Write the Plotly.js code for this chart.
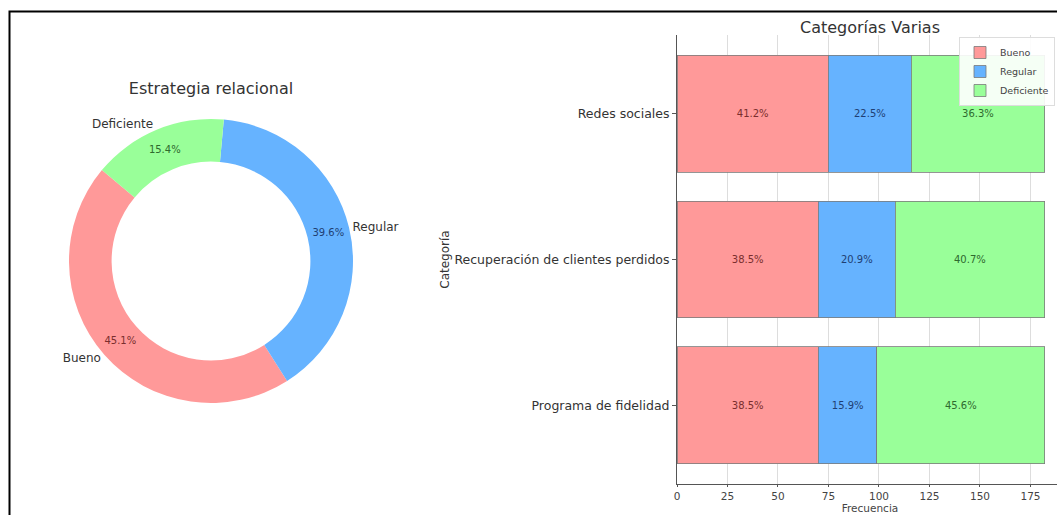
<!DOCTYPE html>
<html><head><meta charset="utf-8">
<script src="https://cdn.plot.ly/plotly-3.0.1.min.js"></script>
<style>html,body{margin:0;padding:0;overflow:hidden;background:#fff}</style>
</head><body><div id="chart" style="width:1063px;height:515px"></div>
<script>
// ---- data ----
const donutLabels = ['Bueno', 'Regular', 'Deficiente'];
const donutValues = [82, 72, 28];
const categories = ['Programa de fidelidad', 'Recuperación de clientes perdidos', 'Redes sociales'];
const buenoVals = [70, 70, 75];
const regularVals = [29, 38, 41];
const deficienteVals = [83, 74, 66];
const seriesNames = ['Bueno', 'Regular', 'Deficiente'];
const xTicks = [0, 25, 50, 75, 100, 125, 150, 175];

// ---- styles ----
const W = 1063, H = 515;
const FONT = 'DejaVu Sans, sans-serif';
const colors = {Bueno: '#ff9999', Regular: '#66b3ff', Deficiente: '#99ff99'};
const textColors = {Bueno: '#7a2e2e', Regular: '#1f3f73', Deficiente: '#2e6a2e'};
const px = v => v / W, py = v => 1 - v / H;

const totals = categories.map((c, i) => buenoVals[i] + regularVals[i] + deficienteVals[i]);
const seriesVals = [buenoVals, regularVals, deficienteVals];

const pieDomain = {x: [px(211 - 142), px(211 + 142)], y: [py(261 + 142), py(261 - 142)]};

const traces = [
  {
    type: 'pie', labels: donutLabels, values: donutValues, hole: 0.7, sort: false,
    direction: 'counterclockwise', rotation: 147.6, domain: pieDomain,
    marker: {colors: donutLabels.map(l => colors[l]), line: {width: 0}},
    texttemplate: '%{percent:.1%}', textposition: 'inside', insidetextorientation: 'horizontal',
    insidetextfont: {family: FONT, size: 10, color: donutLabels.map(l => textColors[l])},
    showlegend: false, hoverinfo: 'skip'
  },
  {
    type: 'pie', labels: donutLabels, values: donutValues, hole: 0.7, sort: false,
    direction: 'counterclockwise', rotation: 147.6, domain: pieDomain,
    marker: {colors: donutLabels.map(() => 'rgba(0,0,0,0)'), line: {width: 0}},
    texttemplate: '%{label}', textposition: 'outside',
    outsidetextfont: {family: FONT, size: 12, color: '#333'},
    showlegend: false, hoverinfo: 'skip'
  }
];

seriesNames.forEach((name, k) => {
  const vals = seriesVals[k];
  traces.push({
    type: 'bar', orientation: 'h', name: name, y: categories, x: vals,
    xaxis: 'x', yaxis: 'y',
    marker: {color: colors[name], line: {color: '#7a7a7a', width: 0.8}},
    text: vals.map((v, i) => (v / totals[i] * 100).toFixed(1) + '%'),
    textposition: 'inside', insidetextanchor: 'middle', textangle: 0,
    insidetextfont: {family: FONT, size: 10, color: textColors[name]},
    hoverinfo: 'skip'
  });
});

const layout = {
  width: W, height: H,
  margin: {l: 0, r: 0, t: 0, b: 0},
  paper_bgcolor: '#fff', plot_bgcolor: '#fff',
  font: {family: FONT, color: '#333'},
  barmode: 'stack', bargap: 0.2,
  title: {text: 'Estrategia relacional', x: px(211), y: py(88), xanchor: 'center', yanchor: 'middle',
          xref: 'paper', yref: 'paper', font: {family: FONT, size: 16, color: '#333'}},
  xaxis: {
    domain: [px(677), 1], range: [0, 191.1], tickvals: xTicks, ticks: 'outside', ticklen: 2,
    tickcolor: '#555', showline: true, linecolor: '#555', linewidth: 1, zeroline: false,
    showgrid: true, gridcolor: 'rgba(170,170,170,0.4)', layer: 'above traces',
    tickfont: {family: FONT, size: 10.5, color: '#444'}, automargin: false,
    title: {text: 'Frecuencia', font: {family: FONT, size: 10.5, color: '#444'}, standoff: 2}
  },
  yaxis: {
    domain: [py(484), py(35)], type: 'category', categoryorder: 'array', categoryarray: categories,
    range: [-0.54, 2.54], ticks: 'outside', ticklen: 4, tickcolor: '#555', showline: true,
    linecolor: '#555', linewidth: 1, showgrid: false, zeroline: false, automargin: false,
    tickfont: {family: FONT, size: 12.5, color: '#333'},
    title: {text: 'Categoría', font: {family: FONT, size: 12, color: '#333'}, standoff: 2}
  },
  legend: {
    x: px(1055), xanchor: 'right', y: py(37), yanchor: 'top', bgcolor: 'rgba(255,255,255,0.9)',
    bordercolor: '#ddd', borderwidth: 1, font: {family: FONT, size: 9.5, color: '#444'},
    traceorder: 'normal', itemwidth: 30, tracegroupgap: 0
  },
  annotations: [{
    text: 'Categorías Varias', xref: 'paper', yref: 'paper', x: px(870), y: py(27),
    xanchor: 'center', yanchor: 'middle', showarrow: false, font: {family: FONT, size: 16, color: '#333'}
  }],
  shapes: [{
    type: 'rect', xref: 'paper', yref: 'paper', x0: px(9.5), x1: 1.05, y0: -0.05, y1: py(11.5),
    line: {color: '#000', width: 2}, fillcolor: 'rgba(0,0,0,0)', layer: 'above'
  }]
};

Plotly.newPlot('chart', traces, layout, {displayModeBar: false, staticPlot: true});
</script></body></html>
